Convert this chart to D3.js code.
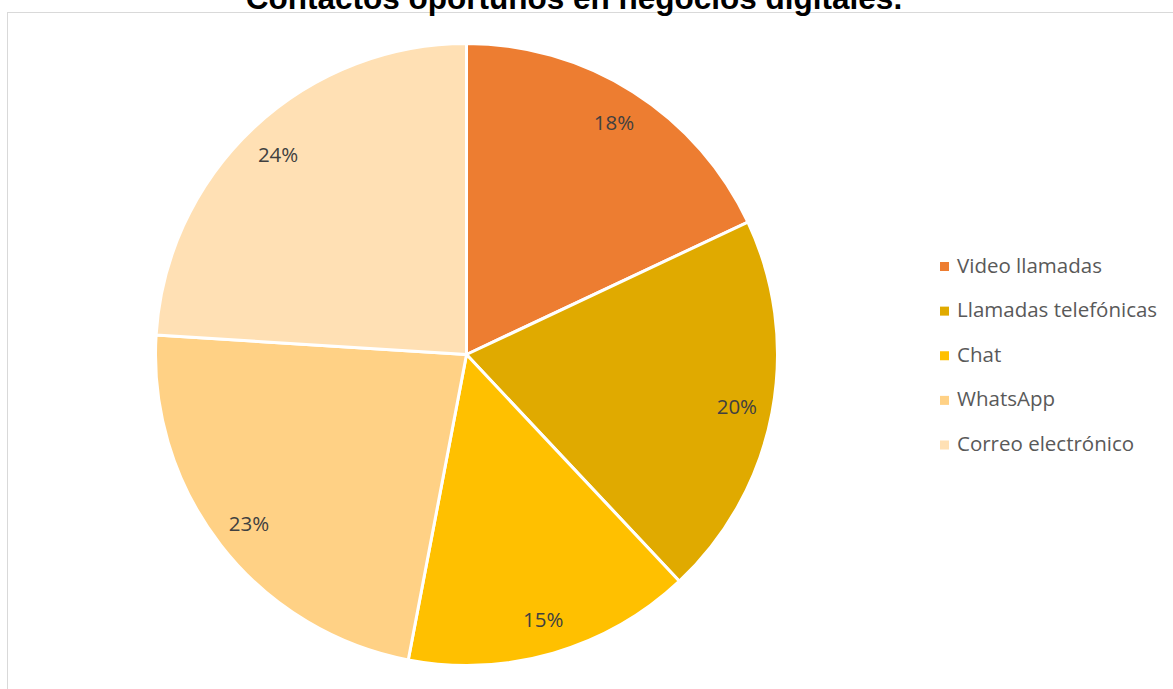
<!DOCTYPE html>
<html>
<head>
<meta charset="utf-8">
<script src="https://cdn.jsdelivr.net/npm/d3@7"></script>
<style>
  html, body { margin: 0; padding: 0; background: #fff; overflow: hidden; }
  svg { display: block; }
</style>
</head>
<body>
<div id="chart"></div>
<script>
// Contact channels and their shares (%)
const categories = ["Video llamadas", "Llamadas telefónicas", "Chat", "WhatsApp", "Correo electrónico"];
const values = [18, 20, 15, 23, 24];
const colors = ["#ED7D31", "#E0AA00", "#FFC000", "#FFD185", "#FFE0B4"];
const title = "Contactos oportunos en negocios digitales.";

const W = 1173, H = 689;
const svg = d3.select("#chart").append("svg").attr("width", W).attr("height", H);

// chart area frame
svg.append("rect")
  .attr("x", 7.5).attr("y", 12.5)
  .attr("width", W + 10).attr("height", H + 10)
  .attr("fill", "#fff").attr("stroke", "#d9d9d9").attr("stroke-width", 1);

// title (sits partly above the frame)
svg.append("text")
  .attr("x", 574).attr("y", 9)
  .attr("text-anchor", "middle")
  .attr("font-family", "Liberation Sans, Arial, sans-serif")
  .attr("font-weight", "bold")
  .attr("font-size", 31.5)
  .attr("fill", "#000")
  .text(title);

const cx = 466.5, cy = 354.5, r = 311;
const data = categories.map((c, i) => ({ name: c, value: values[i], color: colors[i] }));

const pie = d3.pie().value(d => d.value).sort(null);
const arc = d3.arc().innerRadius(0).outerRadius(r);
const labelArc = d3.arc().innerRadius(r * 0.885).outerRadius(r * 0.885);

const g = svg.append("g").attr("transform", `translate(${cx},${cy})`);
const arcs = pie(data);

g.selectAll("path.slice").data(arcs).join("path")
  .attr("class", "slice")
  .attr("d", arc)
  .attr("fill", d => d.data.color)
  .attr("stroke", "#fff")
  .attr("stroke-width", 3)
  .attr("stroke-linejoin", "round");

g.selectAll("text.lbl").data(arcs).join("text")
  .attr("class", "lbl")
  .attr("transform", d => `translate(${labelArc.centroid(d)})`)
  .attr("text-anchor", "middle")
  .attr("dominant-baseline", "central")
  .attr("font-family", "Open Sans, sans-serif")
  .attr("font-size", 20.5)
  .attr("fill", "#404040")
  .text(d => d.data.value + "%");

// legend
const legendY = d3.scalePoint().domain(categories).range([264.5, 443]);
const lg = svg.append("g");
const items = lg.selectAll("g").data(data).join("g")
  .attr("transform", d => `translate(940,${legendY(d.name)})`);
items.append("rect")
  .attr("x", 0).attr("y", -2.5).attr("width", 9).attr("height", 9)
  .attr("fill", d => d.color);
items.append("text")
  .attr("x", 17).attr("y", 0)
  .attr("dominant-baseline", "central")
  .attr("font-family", "Open Sans, sans-serif")
  .attr("font-size", 20.5)
  .attr("fill", "#595959")
  .text(d => d.name);
</script>
</body>
</html>
